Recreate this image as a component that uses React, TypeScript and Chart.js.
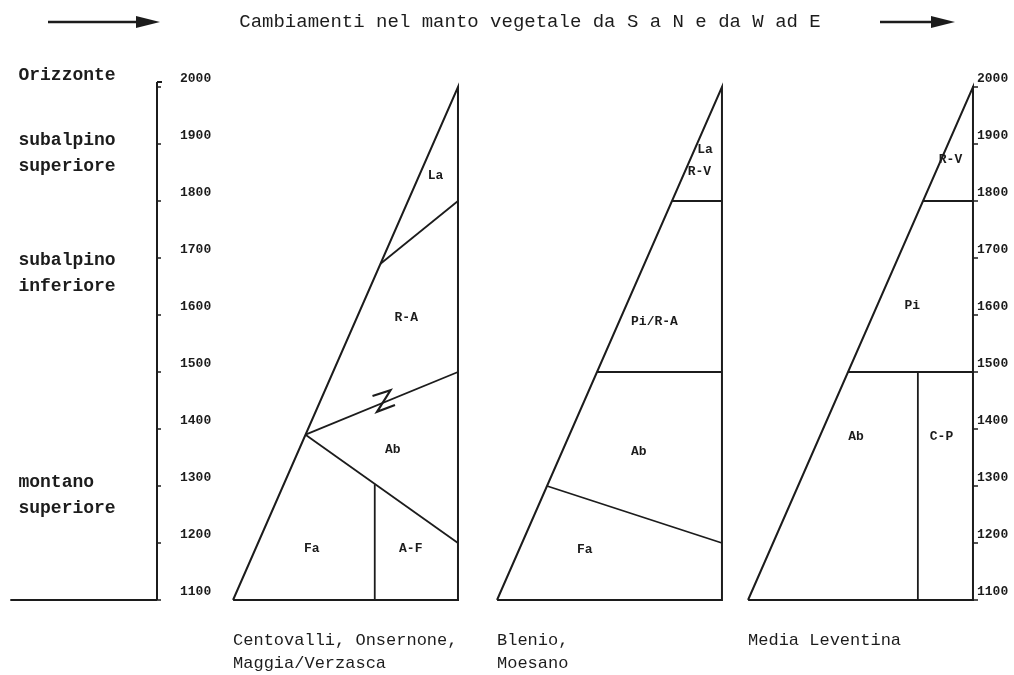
import { useEffect, useRef } from "react";
import { Chart, registerables } from "chart.js";

Chart.register(...registerables);

// ---------- data ----------
const ELEV_MIN = 1100;
const ELEV_MAX = 2000;
const elevationTicks = [1100, 1200, 1300, 1400, 1500, 1600, 1700, 1800, 1900, 2000];

const titleText = "Cambiamenti nel manto vegetale da S a N e da W ad E";

const horizonLabels = [["Orizzonte"], ["subalpino", "superiore"], ["subalpino", "inferiore"], ["montano", "superiore"]];
const horizonElevations = [2021, 1907, 1696, 1307];

const regionNames = [["Centovalli, Onsernone,", "Maggia/Verzasca"], ["Blenio,", "Moesano"], ["Media Leventina"]];
const panelStart = [9.33, 41.72, 72.52];
const panelWidth = 27.6;

// boundary: [fromSide, fromElev, toSide, toElev]; "d" = on the slope, "r" = on the right edge, number = fraction of width
const boundariesCentovalli: (string | number)[][] = [
  ["d", 1690, "r", 1800],
  ["d", 1390, "r", 1500],
  ["d", 1390, "r", 1200],
  [0.63, 1100, 0.63, 1303],
];
const boundariesBlenio: (string | number)[][] = [
  ["d", 1800, "r", 1800],
  ["d", 1500, "r", 1500],
  ["d", 1300, "r", 1200],
];
const boundariesLeventina: (string | number)[][] = [
  ["d", 1800, "r", 1800],
  ["d", 1500, "r", 1500],
  [0.755, 1100, 0.755, 1500],
];

const speciesCentovalli = ["La", "R-A", "Ab", "Fa", "A-F"];
const speciesCentovalliFrac = [0.9, 0.77, 0.71, 0.35, 0.79];
const speciesCentovalliElev = [1845, 1595, 1363, 1190, 1190];

const speciesBlenio = ["La", "R-V", "Pi/R-A", "Ab", "Fa"];
const speciesBlenioFrac = [0.925, 0.9, 0.7, 0.63, 0.39];
const speciesBlenioElev = [1890, 1851, 1588, 1360, 1188];

const speciesLeventina = ["R-V", "Pi", "Ab", "C-P"];
const speciesLeventinaFrac = [0.9, 0.73, 0.48, 0.86];
const speciesLeventinaElev = [1872, 1616, 1386, 1386];

// zig-zag mark on the R-A / Ab boundary (Centovalli)
const zigzagFrac = [0.62, 0.7, 0.64, 0.72];
const zigzagElev = [1458, 1468, 1430, 1442];

const baselineStart = -18.0; // x-units, left end of the base line
const horizonTextX = -17.0;

// ---------- helpers ----------
const panelBoundaries = [boundariesCentovalli, boundariesBlenio, boundariesLeventina];
const panelSpecies = [
  [speciesCentovalli, speciesCentovalliFrac, speciesCentovalliElev],
  [speciesBlenio, speciesBlenioFrac, speciesBlenioElev],
  [speciesLeventina, speciesLeventinaFrac, speciesLeventinaElev],
] as const;

function xAt(panel: number, side: string | number, elev: number) {
  const s = panelStart[panel];
  if (side === "d") return s + ((elev - ELEV_MIN) / (ELEV_MAX - ELEV_MIN)) * panelWidth;
  if (side === "r") return s + panelWidth;
  return s + (side as number) * panelWidth;
}

const INK = "#1c1c1c";
const MONO = '"Liberation Mono", "DejaVu Sans Mono", monospace';

function buildDatasets() {
  const ds: any[] = [];
  const base = { showLine: true, pointRadius: 0, borderColor: INK, borderWidth: 2, fill: false, clip: false, tension: 0 };
  // left base line
  ds.push({ ...base, data: [{ x: baselineStart, y: ELEV_MIN }, { x: 0, y: ELEV_MIN }] });
  for (let p = 0; p < 3; p++) {
    const s = panelStart[p];
    ds.push({
      ...base,
      data: [
        { x: s, y: ELEV_MIN },
        { x: s + panelWidth, y: ELEV_MAX },
        { x: s + panelWidth, y: ELEV_MIN },
        { x: s, y: ELEV_MIN },
      ],
    });
    for (const b of panelBoundaries[p]) {
      ds.push({
        ...base,
        borderWidth: 1.8,
        data: [
          { x: xAt(p, b[0], b[1] as number), y: b[1] },
          { x: xAt(p, b[2], b[3] as number), y: b[3] },
        ],
      });
    }
  }
  ds.push({
    ...base,
    borderWidth: 2.2,
    data: zigzagFrac.map((f, i) => ({ x: xAt(0, f, 0), y: zigzagElev[i] })),
  });
  return ds;
}

const textPlugin = {
  id: "diagramText",
  afterDatasetsDraw(chart: any) {
    const { ctx } = chart;
    const xs = chart.scales.x;
    const ys = chart.scales.y;
    const axisX = xs.getPixelForValue(0);
    const rightX = xs.getPixelForValue(100);
    ctx.save();
    ctx.strokeStyle = INK;
    ctx.fillStyle = INK;

    // left elevation axis
    ctx.lineWidth = 2;
    ctx.beginPath();
    ctx.moveTo(axisX, ys.getPixelForValue(ELEV_MAX) - 5);
    ctx.lineTo(axisX, ys.getPixelForValue(ELEV_MIN));
    ctx.stroke();
    ctx.beginPath();
    ctx.moveTo(axisX, ys.getPixelForValue(ELEV_MAX) - 5);
    ctx.lineTo(axisX + 5, ys.getPixelForValue(ELEV_MAX) - 5);
    ctx.stroke();
    ctx.lineWidth = 1.5;
    ctx.font = `bold 13px ${MONO}`;
    ctx.textBaseline = "middle";
    ctx.textAlign = "left";
    for (const t of elevationTicks) {
      const y = ys.getPixelForValue(t);
      ctx.beginPath();
      ctx.moveTo(axisX, y);
      ctx.lineTo(axisX + 4, y);
      ctx.stroke();
      ctx.fillText(String(t), axisX + 23, y - 8);
      // right axis
      ctx.beginPath();
      ctx.moveTo(rightX, y);
      ctx.lineTo(rightX + 6, y);
      ctx.stroke();
      ctx.fillText(String(t), rightX + 5, y - 8);
    }

    // horizon labels
    ctx.font = `bold 18px ${MONO}`;
    const hx = xs.getPixelForValue(horizonTextX);
    horizonLabels.forEach((lines, i) => {
      const y0 = ys.getPixelForValue(horizonElevations[i]);
      lines.forEach((l, j) => ctx.fillText(l, hx, y0 + j * 26));
    });

    // species labels
    ctx.font = `bold 13px ${MONO}`;
    ctx.textAlign = "center";
    panelSpecies.forEach(([names, fr, el], p) => {
      names.forEach((n: string, i: number) => {
        ctx.fillText(n, xs.getPixelForValue(xAt(p, fr[i], 0)), ys.getPixelForValue(el[i]));
      });
    });

    // region names
    ctx.font = `17px ${MONO}`;
    ctx.textAlign = "left";
    const baseY = ys.getPixelForValue(ELEV_MIN);
    regionNames.forEach((lines, p) => {
      const x = xs.getPixelForValue(panelStart[p]);
      lines.forEach((l, j) => ctx.fillText(l, x, baseY + 40 + j * 23));
    });

    // title and arrows
    ctx.font = `19px ${MONO}`;
    ctx.textAlign = "center";
    ctx.fillText(titleText, 530, 22);
    const arrow = (x1: number, x2: number, y: number) => {
      ctx.lineWidth = 2.5;
      ctx.beginPath();
      ctx.moveTo(x1, y);
      ctx.lineTo(x2 - 20, y);
      ctx.stroke();
      ctx.beginPath();
      ctx.moveTo(x2 - 24, y - 6);
      ctx.lineTo(x2, y);
      ctx.lineTo(x2 - 24, y + 6);
      ctx.closePath();
      ctx.fill();
    };
    arrow(48, 160, 22);
    arrow(880, 955, 22);
    ctx.restore();
  },
};

export default function App() {
  const ref = useRef<HTMLCanvasElement | null>(null);
  useEffect(() => {
    if (!ref.current) return;
    const chart = new Chart(ref.current, {
      type: "scatter",
      data: { datasets: buildDatasets() },
      options: {
        responsive: true,
        maintainAspectRatio: false,
        animation: false,
        events: [],
        layout: { padding: { left: 157, right: 42, top: 87, bottom: 75 } },
        scales: {
          x: { type: "linear", min: 0, max: 100, display: false },
          y: { type: "linear", min: ELEV_MIN, max: ELEV_MAX, display: false },
        },
        plugins: { legend: { display: false }, tooltip: { enabled: false } },
      },
      plugins: [textPlugin],
    });
    return () => chart.destroy();
  }, []);
  return (
    <div style={{ position: "absolute", left: 0, top: 0, width: 1014, height: 675, background: "#fff" }}>
      <canvas ref={ref} />
    </div>
  );
}
